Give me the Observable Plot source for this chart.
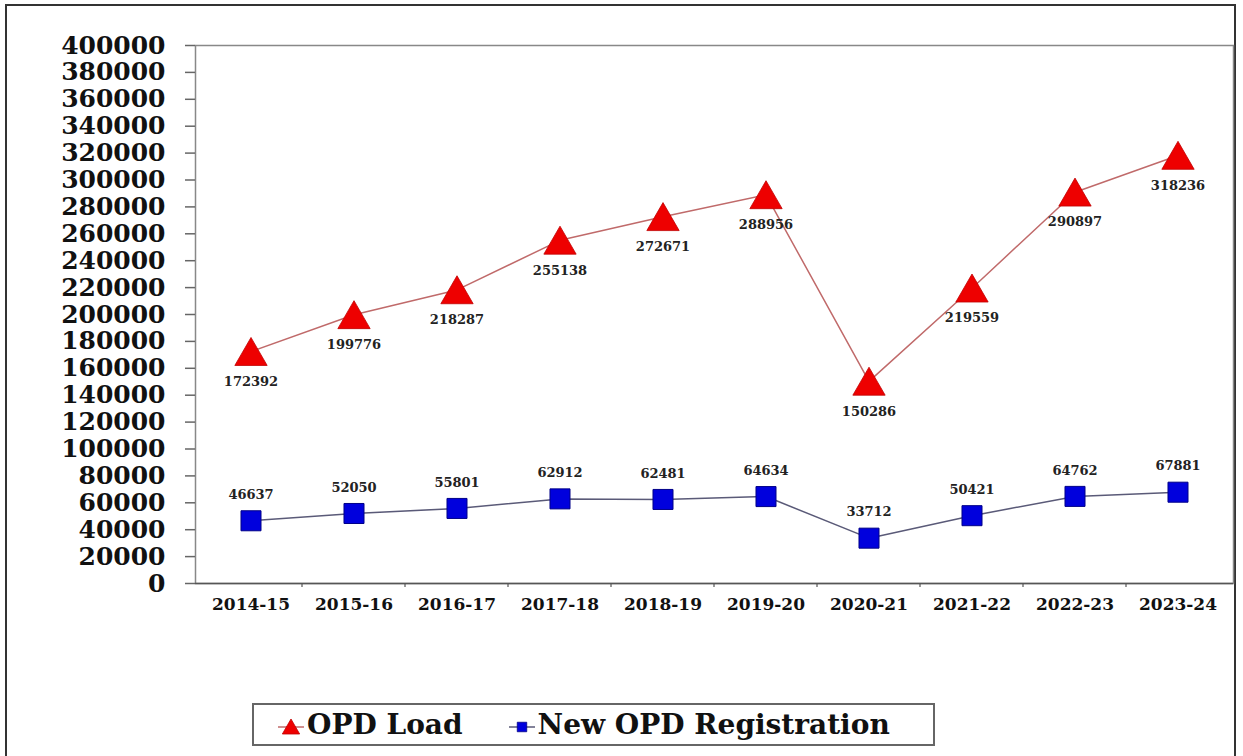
<!DOCTYPE html>
<html>
<head>
<meta charset="utf-8">
<script src="https://cdn.jsdelivr.net/npm/d3@7"></script>
<script src="https://cdn.jsdelivr.net/npm/@observablehq/plot@0.6"></script>
<style>
  html, body { margin: 0; padding: 0; background: #fff; }
  body { width: 1243px; height: 756px; position: relative; overflow: hidden; font-family: "DejaVu Serif", serif; }
  #frame { position: absolute; left: 5px; top: 4px; width: 1231px; height: 770px; border: 2px solid #333; box-sizing: border-box; }
  #chart { position: absolute; left: 0; top: 0; }
  #legend { position: absolute; left: 252px; top: 703px; width: 683px; height: 43px; border: 2px solid #666; box-sizing: border-box;
            display: flex; align-items: center; font-weight: bold; font-size: 28px; color: #111; }
  .item { display: flex; align-items: center; }
  .item svg { display: block; }
</style>
</head>
<body>
<div id="frame"></div>
<div id="chart"></div>
<div id="legend"></div>
<script>
const years = ["2014-15","2015-16","2016-17","2017-18","2018-19","2019-20","2020-21","2021-22","2022-23","2023-24"];
const opdLoad = [172392, 199776, 218287, 255138, 272671, 288956, 150286, 219559, 290897, 318236];
const newOpd = [46637, 52050, 55801, 62912, 62481, 64634, 33712, 50421, 64762, 67881];
const yTicks = d3.range(0, 400001, 20000);
const seriesNames = ["OPD Load", "New OPD Registration"];

const load = years.map((y, i) => ({year: y, value: opdLoad[i]}));
const reg = years.map((y, i) => ({year: y, value: newOpd[i]}));

const plot = Plot.plot({
  width: 1243,
  height: 640,
  marginLeft: 195,
  marginRight: 10,
  marginTop: 45,
  marginBottom: 57,
  style: {background: "transparent", fontFamily: "DejaVu Serif", color: "#111"},
  x: {type: "band", domain: years, padding: 0},
  y: {domain: [0, 400000]},
  marks: [
    Plot.frame({stroke: "#888", strokeWidth: 1.5}),
    Plot.axisY({ticks: yTicks, tickSize: 10, tickPadding: 20, tickFormat: d => String(d), fontSize: 25, fontWeight: "bold", stroke: "#666", strokeWidth: 1.5, label: null}),
    Plot.axisX({tickSize: 0, tickPadding: 14, fontSize: 17, fontWeight: "bold", label: null}),
    Plot.ruleY([0], {stroke: "#555", strokeWidth: 1.5}),
    Plot.line(load, {x: "year", y: "value", stroke: "#c06a6a", strokeWidth: 1.5}),
    Plot.line(reg, {x: "year", y: "value", stroke: "#5a5a78", strokeWidth: 1.5}),
    Plot.dot(load, {x: "year", y: "value", symbol: "triangle", r: 12, dy: 4.5, fill: "#ee0000", stroke: "#c00000", strokeWidth: 0.8}),
    Plot.dot(reg, {x: "year", y: "value", symbol: "square", r: 11.3, fill: "#0000dd", stroke: "#000088", strokeWidth: 1}),
    Plot.text(load, {x: "year", y: "value", text: d => String(d.value), dy: 30, fontSize: 13, fontWeight: "bold", fill: "#222"}),
    Plot.text(reg, {x: "year", y: "value", text: d => String(d.value), dy: -26, fontSize: 13, fontWeight: "bold", fill: "#222"})
  ]
});
document.getElementById("chart").appendChild(plot);

// small tick marks at the category boundaries on the x axis, from the band scale
const xs = plot.scale("x");
const ys = plot.scale("y");
const svg = d3.select(plot);
const y0 = ys.apply(0);
const bounds = years.slice(1).map(y => xs.apply(y));
svg.append("g").selectAll("line").data(bounds).join("line")
  .attr("x1", d => d).attr("x2", d => d)
  .attr("y1", y0).attr("y2", y0 + 4)
  .attr("stroke", "#555").attr("stroke-width", 1.2);

// legend
const legend = d3.select("#legend");
function addItem(name, symbol, fill, stroke, lineColor, marginLeft) {
  const item = legend.append("div").attr("class", "item").style("margin-left", marginLeft + "px");
  const s = item.append("svg").attr("width", 30).attr("height", 30);
  s.append("line").attr("x1", 2).attr("x2", 28).attr("y1", 17).attr("y2", 17).attr("stroke", lineColor).attr("stroke-width", 1.5);
  s.append("path").attr("transform", symbol === d3.symbolTriangle ? "translate(15,19)" : "translate(15,17)")
    .attr("d", d3.symbol(symbol, symbol === d3.symbolTriangle ? 130 : 90)())
    .attr("fill", fill).attr("stroke", stroke).attr("stroke-width", 0.8);
  item.append("span").text(name).style("margin-left", "1px");
}
addItem(seriesNames[0], d3.symbolTriangle, "#ee0000", "#c00000", "#c06a6a", 22);
addItem(seriesNames[1], d3.symbolSquare, "#0000dd", "#000088", "#5a5a78", 44);
</script>
</body>
</html>
